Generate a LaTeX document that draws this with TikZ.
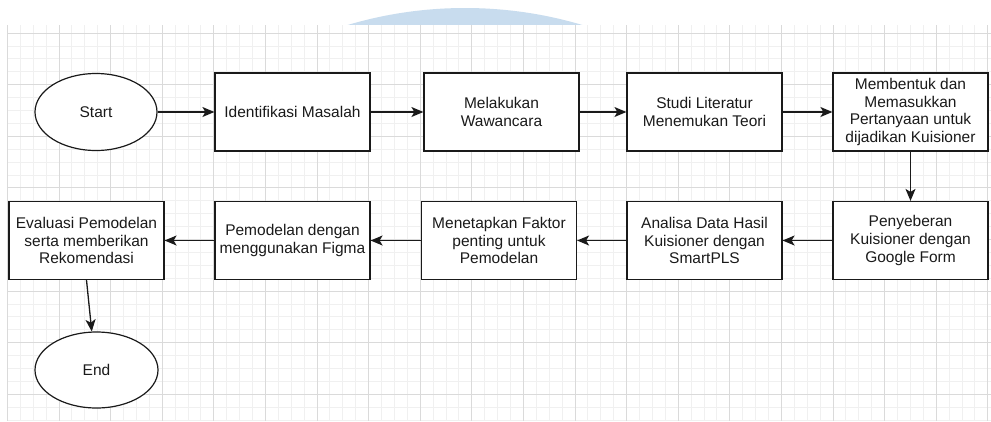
\documentclass[tikz,border=0pt]{standalone}
\usepackage{fontspec}
\setmainfont{Liberation Sans}
\usetikzlibrary{shapes.geometric,arrows.meta}
\definecolor{arcblue}{HTML}{C8DCEE}
\definecolor{gminor}{HTML}{F0F0F0}
\definecolor{gmajor}{HTML}{DADADA}
\definecolor{ink}{HTML}{1A1A1A}
\tikzset{
  box/.style={draw=ink,line width=1.2pt,fill=white,minimum width=155pt,minimum height=78pt,inner sep=0pt,align=center,text=ink,font=\fontsize{15.5}{17.8}\selectfont},
  oval/.style={draw=ink,line width=1.2pt,fill=white,ellipse,minimum width=122pt,minimum height=77pt,inner sep=0pt,text=ink,font=\fontsize{15.5}{17.8}\selectfont},
  conn/.style={draw=ink,line width=1.3pt,-{Stealth[length=12pt,width=10pt,inset=3pt]}},
  gminorline/.style={draw=gminor,line width=0.8pt},
  gmajorline/.style={draw=gmajor,line width=0.8pt}
}
\begin{document}
\begin{tikzpicture}[x=1pt,y=-1pt]
\useasboundingbox (0,0) rectangle (991,421);
\fill[white] (0,0) rectangle (991,421);
% watermark arc
\begin{scope}
\clip (0,0) rectangle (991,25);
\fill[arcblue] (465,419) circle (411);
\end{scope}
% grid area
\fill[white] (7,25) rectangle (991,421);
\foreach \i in {1,...,76} {
  \draw[gminorline] ({7.3+12.9*\i},25) -- ({7.3+12.9*\i},421);
}
\foreach \j in {0,...,30} {
  \draw[gminorline] (7,{33+12.9*\j}) -- (991,{33+12.9*\j});
}
\foreach \i in {0,...,19} {
  \draw[gmajorline] ({7.3+51.6*\i},25) -- ({7.3+51.6*\i},421);
}
\foreach \j in {0,...,7} {
  \draw[gmajorline] (7,{33+51.6*\j}) -- (991,{33+51.6*\j});
}
% nodes row 1
\node[oval] (start) at (96,112) {Start};
\node[box] (ident) at (292.5,112) {Identifikasi Masalah};
\node[box] (waw) at (501.5,112) {Melakukan\\Wawancara};
\node[box] (studi) at (704.5,112) {Studi Literatur\\Menemukan Teori};
\node[box] (bentuk) at (910.5,112) {Membentuk dan\\Memasukkan\\Pertanyaan untuk\\dijadikan Kuisioner};
% nodes row 2
\node[box] (sebar) at (910.5,240.5) {Penyeberan\\Kuisioner dengan\\Google Form};
\node[box] (analisa) at (704.5,240.5) {Analisa Data Hasil\\Kuisioner dengan\\SmartPLS};
\node[box] (faktor) at (499,240.5) {Menetapkan Faktor\\penting untuk\\Pemodelan};
\node[box] (figma) at (292.5,240.5) {Pemodelan dengan\\menggunakan Figma};
\node[box] (eval) at (86.5,240.5) {Evaluasi Pemodelan\\serta memberikan\\Rekomendasi};
\node[oval,minimum height=76pt,minimum width=123pt] (end) at (96.5,370) {End};
% connectors
\draw[conn] (start) -- (ident);
\draw[conn] (ident) -- (waw);
\draw[conn] (waw) -- (studi);
\draw[conn] (studi) -- (bentuk);
\draw[conn] (bentuk) -- (sebar);
\draw[conn] (sebar) -- (analisa);
\draw[conn] (analisa) -- (faktor);
\draw[conn] (faktor) -- (figma);
\draw[conn] (figma) -- (eval);
\draw[conn] (eval.south) -- (end.97);
\end{tikzpicture}
\end{document}
